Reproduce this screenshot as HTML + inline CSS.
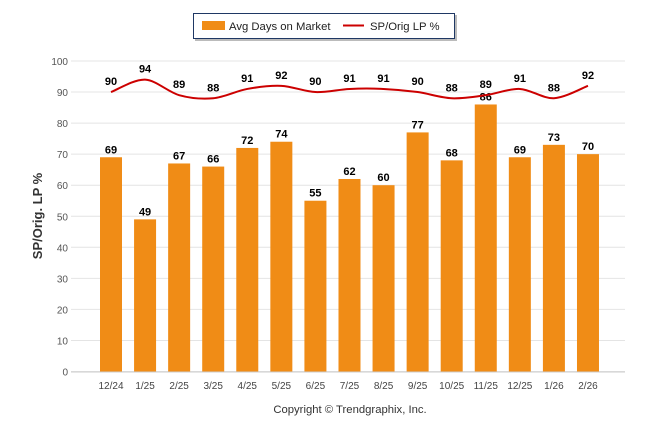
<!DOCTYPE html>
<html><head><meta charset="utf-8"><style>
body{margin:0;background:#fff;}
svg{display:block;font-family:"Liberation Sans",sans-serif;}
</style></head><body>
<svg id="c" width="646" height="434"></svg>
<script>
const categories=["12/24","1/25","2/25","3/25","4/25","5/25","6/25","7/25","8/25","9/25","10/25","11/25","12/25","1/26","2/26"];
const daysOnMarket=[69,49,67,66,72,74,55,62,60,77,68,86,69,73,70];
const spOrigLp=[90,94,89,88,91,92,90,91,91,90,88,89,91,88,92];
const yTicks=[0,10,20,30,40,50,60,70,80,90,100];
const NS="http://www.w3.org/2000/svg";
const svg=document.getElementById('c');
function el(t,a,p){const e=document.createElementNS(NS,t);for(const k in a)e.setAttribute(k,a[k]);(p||svg).appendChild(e);return e;}
const y0=371.5,yScale=3.105;
const Y=v=>y0-v*yScale;
const X=i=>111+i*34.07;
const gGrid=el('g',{});


yTicks.forEach(v=>{
 const l=el('line',{x1:71,x2:625,y1:Y(v),y2:Y(v),stroke:'#e4e4e4','stroke-width':1},gGrid);
 
 
 const t=el('text',{x:68,y:Y(v)+4,'text-anchor':'end','font-size':10,fill:'#555'});
 t.textContent=v;
 
 
});
el('line',{x1:71,x2:625,y1:y0+0.5,y2:y0+0.5,stroke:'#ccc'});
const yt=el('text',{x:42,y:216,'text-anchor':'middle','font-size':13,'font-weight':'bold',fill:'#333',transform:'rotate(-90 42 216)'});
yt.textContent='SP/Orig. LP %';


categories.forEach((c,i)=>{
 const v=daysOnMarket[i];
 const b=el('rect',{x:X(i)-11,y:Y(v),width:22,height:y0-Y(v),fill:'#f08c16'});
 
 
 const t=el('text',{x:X(i),y:Y(v)-4,'text-anchor':'middle','font-size':11,'font-weight':'bold',fill:'#000'});
 t.textContent=v;
 
 
 const xl=el('text',{x:X(i),y:389,'text-anchor':'middle','font-size':10,fill:'#444'});
 xl.textContent=c;
 
 
});
const pts=spOrigLp.map((v,i)=>[X(i),Y(v)]);
let d='M'+pts[0][0]+','+pts[0][1];
for(let i=0;i<pts.length-1;i++){
 const p0=pts[i-1]||pts[i],p1=pts[i],p2=pts[i+1],p3=pts[i+2]||p2;
 const k=0.16;
 d+=` C${p1[0]+(p2[0]-p0[0])*k},${p1[1]+(p2[1]-p0[1])*k} ${p2[0]-(p3[0]-p1[0])*k},${p2[1]-(p3[1]-p1[1])*k} ${p2[0]},${p2[1]}`;
}
const ln=el('path',{d:d,fill:'none',stroke:'#cc0000','stroke-width':2});


spOrigLp.forEach((v,i)=>{
 const t=el('text',{x:X(i),y:Y(v)-7,'text-anchor':'middle','font-size':11,'font-weight':'bold',fill:'#000'});
 t.textContent=v;
 
 
});
const lg=el('g',{});


el('rect',{x:195,y:15,width:262,height:26,fill:'#bbb'},lg);
el('rect',{x:193.5,y:13.5,width:261,height:25,fill:'#fff',stroke:'#1f3864'},lg);
const s1=el('rect',{x:202,y:21,width:23,height:9,fill:'#f08c16'},lg);


const t1=el('text',{x:229,y:30,'font-size':11.3,fill:'#222'},lg);
t1.textContent='Avg Days on Market';


const s2=el('line',{x1:343,x2:364,y1:25.5,y2:25.5,stroke:'#cc0000','stroke-width':2},lg);


const t2=el('text',{x:370,y:30,'font-size':11.3,fill:'#222'},lg);
t2.textContent='SP/Orig LP %';


const cp=el('text',{x:350,y:413,'text-anchor':'middle','font-size':11.3,fill:'#333'});
cp.textContent='Copyright © Trendgraphix, Inc.';


</script>
</body></html>
